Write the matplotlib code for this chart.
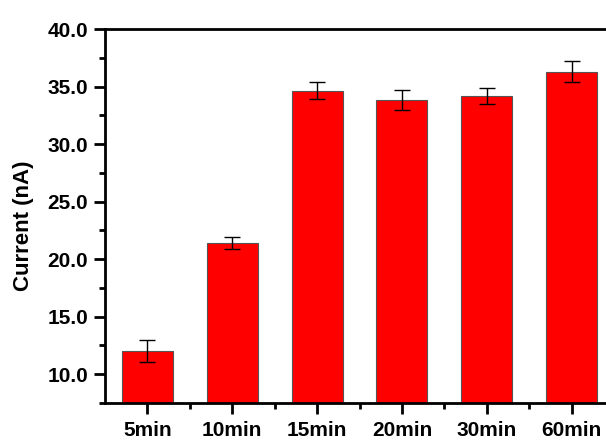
import numpy as np
import matplotlib.pyplot as plt
from matplotlib.ticker import MultipleLocator, FormatStrFormatter

####### data #######
times = ['5min', '10min', '15min', '20min', '30min', '60min']
current = [12.0, 21.4, 34.65, 33.85, 34.15, 36.3]
current_err = [0.95, 0.55, 0.75, 0.85, 0.7, 0.92]

def main():
    plt.rcParams['font.family'] = ['Liberation Sans', 'DejaVu Sans']
    plt.rcParams['font.weight'] = 'bold'

    fig = plt.figure(figsize=(6.06, 4.41), dpi=100)
    ax = fig.add_axes([0.1733, 0.0862, 0.8399, 0.848]) # axes runs off the right edge like the original crop

    x = np.arange(len(times))
    ax.bar(x, current, width=0.6, color='#ff0000', edgecolor='#555555', linewidth=0.8, zorder=2)
    ax.errorbar(x, current, yerr=current_err, fmt='none', ecolor='black',
                elinewidth=1.0, capsize=6, capthick=1.0, zorder=3)

    ax.set_xlim(-0.5, len(times) - 0.5)
    ax.set_ylim(7.5, 40.0)
    ax.set_xticks(x)
    ax.set_xticklabels(times)
    ax.set_xticks(x[:-1] + 0.5, minor=True)
    ax.yaxis.set_major_locator(MultipleLocator(5))
    ax.yaxis.set_minor_locator(MultipleLocator(2.5))
    ax.yaxis.set_major_formatter(FormatStrFormatter('%.1f'))

    ax.tick_params(which='major', direction='out', length=8, width=2, labelsize=15, pad=4)
    ax.tick_params(which='minor', direction='out', length=4, width=2)
    ax.tick_params(axis='x', which='major', pad=5)
    for side in ['left', 'bottom', 'top', 'right']:
        ax.spines[side].set_linewidth(2)

    ax.set_ylabel('Current (nA)', fontsize=16, fontweight='bold', va='center')
    ax.yaxis.set_label_coords(-0.16, 0.475)

    fig.savefig('out.png', dpi=100)

if __name__ == '__main__':
    main()
